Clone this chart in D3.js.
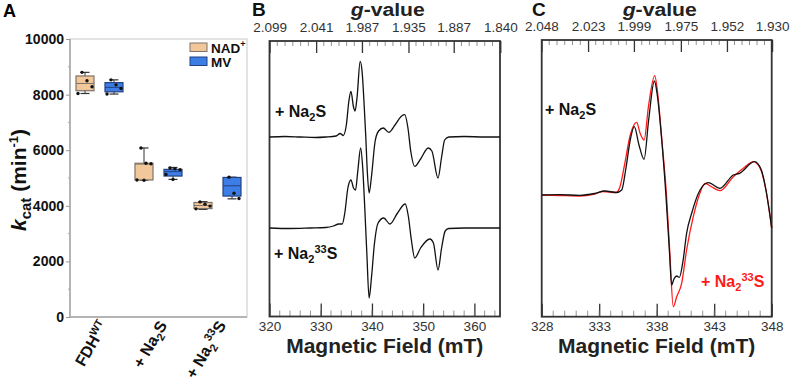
<!DOCTYPE html>
<html>
<head>
<meta charset="utf-8">
<script src="https://cdn.jsdelivr.net/npm/d3@7"></script>
<style>
  body { margin: 0; background: #fff; }
  svg { display: block; font-family: "Liberation Sans", Arial, Helvetica, sans-serif; }
</style>
</head>
<body>
<svg id="chart" width="791" height="380"></svg>
<script>
// data ---------------------------------------------------------------------------------------
const categories = ['FDHWT', 'Na2S', 'Na233S'];
const series = ['NAD+', 'MV'];
// box stats: [min, q1, median, q3, max] (min-1)
const nadStats = [[8040, 8140, 8400, 8670, 8800], [4920, 4930, 5500, 5530, 6080], [3870, 3900, 4010, 4120, 4150]];
const mvStats = [[8020, 8100, 8260, 8430, 8530], [4950, 5070, 5230, 5310, 5380], [4250, 4350, 4720, 5020, 5030]];
const nadPoints = [[8800, 8500, 8280, 8040], [6080, 5530, 5510, 4930, 4920], [4140, 4060, 3990, 3890]];
const mvPoints = [[8530, 8350, 8220, 8020], [5360, 5330, 5300, 5130, 4950], [5030, 4450, 4260]];
const kcatTicks = [0, 2000, 4000, 6000, 8000, 10000];

// EPR spectra [field mT, intensity]
const na2sWide = [[320, 0], [323, 0.5], [326, 0], [329, -0.5], [331, 0], [333, 1], [333.8, 3.5], [334.4, 1.5],
  [335.0, 12], [335.5, 36], [335.9, 45.6], [336.4, 30], [336.7, 26], [337.1, 40], [337.7, 75.6], [338.1, 64],
  [338.5, 30], [338.8, 0], [339.1, -35], [339.45, -56], [339.9, -40], [340.6, -5], [341.3, 6], [342.2, 9],
  [343.3, 4.6], [344.5, 12], [345.8, 21], [346.4, 22.3], [347.0, 10], [347.6, -15], [348.35, -29.4],
  [349.5, -22], [351.0, -11], [351.7, -14], [352.9, -41], [353.6, -20], [354.2, -3], [355, 0], [358, 0.5],
  [362, 0], [365, 0]];
const na233sWide = [[320, 0], [324, -0.5], [328, 0], [331, 0.5], [332.5, 2], [333.5, 4], [334.2, 4],
  [334.7, 15], [335.3, 40], [335.9, 48], [336.4, 40], [336.8, 38], [337.2, 55], [337.8, 80], [338.2, 60],
  [338.6, 20], [339.0, -25], [339.45, -70], [339.9, -50], [340.5, -15], [341.2, 5], [342.3, 10], [343.5, 4],
  [345, 15], [346.5, 24], [347.1, 12], [347.7, -12], [348.35, -30], [349.5, -20], [351.3, -11], [352.0, -15],
  [352.9, -42], [353.6, -20], [354.3, -3], [355, -0.5], [358, 0], [365, 0]];
const na2sZoom = [[328, 0], [329.6, 0.3], [331.3, -0.3], [332.6, 1.5], [333.5, 4], [334.5, 2.5], [334.96, 5],
  [335.3, 25], [335.7, 55], [336.05, 68.3], [336.46, 50], [336.9, 35.7], [337.3, 75], [337.8, 114],
  [338.05, 100], [338.4, 60], [338.8, 0], [339.1, -55], [339.3, -90], [339.5, -84], [339.74, -81],
  [339.97, -82.3], [340.3, -65], [340.6, -38.3], [341.04, -18.3], [341.77, 5], [342.5, 12.3], [343.5, 6.7],
  [344.66, 20], [345.2, 21.7], [346.5, 33.3], [347.1, 25], [347.5, 5], [348, -33]];
const na233sZoom = [[328, 0], [329.6, -0.5], [331.3, -1], [332.6, 1], [333.3, 3.5], [334.46, 2.5], [334.8, 8],
  [335.2, 30], [335.7, 60], [336.26, 72.7], [336.55, 62], [336.9, 55], [337.3, 90], [337.83, 119.3],
  [338.1, 100], [338.45, 55], [338.85, 0], [339.15, -60], [339.44, -111.7], [339.74, -101.7],
  [340.17, -88.3], [340.6, -55], [341.18, -21.7], [341.7, 0], [342.2, 11.7], [342.8, 8], [343.5, 4.3],
  [344.66, 18.3], [345.67, 28], [346.4, 33.3], [346.98, 27], [347.5, 5], [348, -33]];
const fieldTicksB = [320, 330, 340, 350, 360];
const fieldTicksC = [328, 333, 338, 343, 348];
const gTicksB = [2.099, 2.041, 1.987, 1.935, 1.887, 1.840];
const gTicksC = [2.048, 2.023, 1.999, 1.975, 1.952, 1.930];
const hv = 671.7; // g * B (mT)

const svg = d3.select('#chart');

// panel A ------------------------------------------------------------------------------------
const aLeft = 70, aRight = 247, aTop = 39, aBottom = 317;
const yA = d3.scaleLinear().domain([0, 10000]).range([aBottom, aTop]);
const xA = d3.scaleBand().domain(categories).range([aLeft, aRight]);
const offs = d3.scaleOrdinal().domain(series).range([-14.5, 14.5]);
const fills = {'NAD+': '#f2c89b', 'MV': '#3d7de6'};
const strokes = {'NAD+': '#7d7368', 'MV': '#25407f'};
const jitter = [-3, 2, 7, -7, 0, 5];

svg.append('text').attr('x', 3).attr('y', 17).attr('font-size', '18px').attr('font-weight', 'bold').text('A');

const gA = svg.append('g');
gA.append('rect').attr('x', aLeft).attr('y', aTop).attr('width', aRight - aLeft).attr('height', aBottom - aTop)
  .attr('fill', 'none').attr('stroke', '#c8c8c8').attr('stroke-width', 1);
gA.append('line').attr('x1', aLeft).attr('x2', aLeft).attr('y1', aTop).attr('y2', aBottom + 1)
  .attr('stroke', '#b4b4b4').attr('stroke-width', 2);
gA.append('line').attr('x1', aLeft).attr('x2', aRight).attr('y1', aBottom).attr('y2', aBottom)
  .attr('stroke', '#b4b4b4').attr('stroke-width', 2);

const yAxisA = gA.append('g').attr('transform', 'translate(' + aLeft + ',0)')
  .call(d3.axisLeft(yA).tickValues(kcatTicks).tickFormat(d3.format('d')).tickSize(4).tickPadding(2));
yAxisA.select('.domain').remove();
yAxisA.selectAll('line').attr('stroke', '#999');
yAxisA.selectAll('text').attr('font-size', '14px').attr('font-weight', 'bold').attr('fill', '#111');
gA.selectAll('.minorA').data(d3.range(1000, 10000, 2000)).enter().append('line')
  .attr('x1', aLeft - 2).attr('x2', aLeft).attr('y1', d => yA(d)).attr('y2', d => yA(d))
  .attr('stroke', '#aaa');

// y-axis title
const yTitle = gA.append('text').attr('transform', 'translate(26,180) rotate(-90)')
  .attr('text-anchor', 'middle').attr('font-size', '21px').attr('font-weight', 'bold').attr('fill', '#111');
yTitle.append('tspan').attr('font-style', 'italic').text('k');
yTitle.append('tspan').attr('font-size', '15px').attr('dy', 5).text('cat');
yTitle.append('tspan').attr('dy', -5).text(' (min');
yTitle.append('tspan').attr('font-size', '13px').attr('dy', -8).text('-1');
yTitle.append('tspan').attr('dy', 8).text(')');

// boxes
const boxW = 18;
const drawBoxes = (name, stats, points) => {
  stats.forEach((s, i) => {
    const cx = xA(categories[i]) + xA.bandwidth() / 2 + offs(name);
    const g = gA.append('g');
    g.append('line').attr('x1', cx).attr('x2', cx).attr('y1', yA(s[0])).attr('y2', yA(s[4]))
      .attr('stroke', '#333').attr('stroke-width', 1);
    g.selectAll('.cap').data([s[0], s[4]]).enter().append('line')
      .attr('x1', cx - 4.5).attr('x2', cx + 4.5).attr('y1', d => yA(d)).attr('y2', d => yA(d))
      .attr('stroke', '#333').attr('stroke-width', 1.2);
    g.append('rect').attr('x', cx - boxW / 2).attr('width', boxW)
      .attr('y', yA(s[3])).attr('height', yA(s[1]) - yA(s[3]))
      .attr('fill', fills[name]).attr('stroke', strokes[name]).attr('stroke-width', 1.2);
    g.append('line').attr('x1', cx - boxW / 2).attr('x2', cx + boxW / 2)
      .attr('y1', yA(s[2])).attr('y2', yA(s[2])).attr('stroke', strokes[name]).attr('stroke-width', 1);
    g.selectAll('circle').data(points[i]).enter().append('circle')
      .attr('cx', (d, j) => cx + jitter[j % jitter.length]).attr('cy', d => yA(d)).attr('r', 1.7)
      .attr('fill', '#111');
  });
};
drawBoxes('NAD+', nadStats, nadPoints);
drawBoxes('MV', mvStats, mvPoints);

// legend
const legA = gA.append('g').attr('transform', 'translate(190,43)');
series.forEach((name, i) => {
  legA.append('rect').attr('x', 0).attr('y', i * 14).attr('width', 17).attr('height', 8.5)
    .attr('fill', fills[name]).attr('stroke', strokes[name]).attr('stroke-width', 1);
  const t = legA.append('text').attr('x', 21).attr('y', i * 14 + 9.5).attr('font-size', '13.5px')
    .attr('font-weight', 'bold').attr('fill', '#111');
  if (name === 'NAD+') {
    t.append('tspan').text('NAD');
    t.append('tspan').attr('font-size', '9px').attr('dy', -6).text('+');
  } else {
    t.text(name);
  }
});

// category labels
const catParts = {
  FDHWT: [['FDH', 0, 16], ['WT', -6, 10.5]],
  Na2S: [['+ Na', 0, 16], ['2', 4, 11], ['S', -4, 16]],
  Na233S: [['+ Na', 0, 16], ['2', 4, 11], ['33', -10, 11], ['S', 6, 16]]
};
categories.forEach(c => {
  const cx = xA(c) + xA.bandwidth() / 2;
  const t = gA.append('text').attr('transform', 'translate(' + (cx + 9) + ',' + (aBottom + 8) + ') rotate(-60)')
    .attr('text-anchor', 'end').attr('font-weight', 'bold').attr('fill', '#111');
  catParts[c].forEach(p => {
    t.append('tspan').attr('dy', p[1]).attr('font-size', p[2] + 'px').text(p[0]);
  });
});

// EPR panels ---------------------------------------------------------------------------------
const eprPanel = (opt) => {
  const x = d3.scaleLinear().domain(opt.domain).range([opt.left, opt.right]);
  const y = d3.scaleLinear().domain(opt.yDomain).range([opt.bottom, opt.top]);
  const g = svg.append('g');
  // bottom axis
  const bAxis = g.append('g').attr('transform', 'translate(0,' + opt.bottom + ')')
    .call(d3.axisBottom(x).tickValues(opt.fieldTicks).tickSize(-13).tickPadding(5));
  bAxis.select('.domain').remove();
  bAxis.selectAll('line').attr('stroke', '#333').attr('stroke-width', 1.3);
  bAxis.selectAll('text').attr('font-size', '13.5px').attr('fill', '#333');
  g.selectAll('.minB').data(d3.range(opt.domain[0], opt.domain[1] + 0.001, opt.minorStep)).enter().append('line')
    .attr('x1', d => x(d)).attr('x2', d => x(d)).attr('y1', opt.bottom).attr('y2', opt.bottom - 6)
    .attr('stroke', '#777').attr('stroke-width', 0.8);
  // top axis (g-value)
  const gPos = opt.gTicks.map(v => hv / v);
  const tAxis = g.append('g').attr('transform', 'translate(0,' + opt.top + ')')
    .call(d3.axisTop(x).tickValues(gPos).tickSize(-12).tickPadding(9)
      .tickFormat((d, i) => d3.format('.3f')(opt.gTicks[i])));
  tAxis.select('.domain').remove();
  tAxis.selectAll('line').attr('stroke', '#333').attr('stroke-width', 1.3);
  tAxis.selectAll('text').attr('font-size', '13.5px').attr('fill', '#333');
  const minorTop = [];
  for (let i = 0; i < gPos.length - 1; i++) {
    for (let k = 1; k < 6; k++) minorTop.push(gPos[i] + (gPos[i + 1] - gPos[i]) * k / 6);
  }
  g.selectAll('.minT').data(minorTop).enter().append('line')
    .attr('x1', d => x(d)).attr('x2', d => x(d)).attr('y1', opt.top).attr('y2', opt.top + 5)
    .attr('stroke', '#777').attr('stroke-width', 0.8);
  // frame
  g.append('rect').attr('x', opt.left).attr('y', opt.top).attr('width', opt.right - opt.left)
    .attr('height', opt.bottom - opt.top).attr('fill', 'none').attr('stroke', '#333').attr('stroke-width', 1.8);
  // traces
  opt.traces.forEach(tr => {
    g.append('path').datum(tr.data)
      .attr('d', d3.line().x(d => x(d[0])).y(d => y(d[1] + tr.offset)).curve(d3.curveMonotoneX))
      .attr('fill', 'none').attr('stroke', tr.color).attr('stroke-width', 1.3);
  });
  // titles
  g.append('text').attr('x', (opt.left + opt.right) / 2).attr('y', 352.5).attr('text-anchor', 'middle')
    .attr('font-size', '21px').attr('font-weight', 'bold').attr('fill', '#222').text('Magnetic Field (mT)');
  const gt = g.append('text').attr('x', (opt.left + opt.right) / 2 + 3 - 37).attr('y', 15.5)
    .attr('font-size', '17.5px').attr('font-weight', 'bold').attr('fill', '#222')
    .attr('textLength', 74).attr('lengthAdjust', 'spacingAndGlyphs');
  gt.append('tspan').attr('font-style', 'italic').text('g');
  gt.append('tspan').text('-value');
  g.append('text').attr('x', opt.labelX).attr('y', 16).attr('font-size', '19px').attr('font-weight', 'bold')
    .attr('fill', '#111').text(opt.label);
  // trace labels
  opt.tags.forEach(tag => {
    const t = g.append('text').attr('x', tag.x).attr('y', tag.y).attr('font-weight', 'bold')
      .attr('fill', tag.color);
    tag.parts.forEach(p => t.append('tspan').attr('dy', p[1]).attr('font-size', p[2] + 'px').text(p[0]));
  });
};

const tagNa2S = [['+ Na', 0, 16], ['2', 4, 11], ['S', -4, 16]];
const tagNa233S = [['+ Na', 0, 16], ['2', 4, 11], ['33', -10, 11], ['S', 6, 16]];

eprPanel({
  domain: [320, 365], left: 269.5, right: 500, top: 41, bottom: 316.5,
  yDomain: [-88.5, 187], fieldTicks: fieldTicksB, gTicks: gTicksB, minorStep: 2,
  traces: [{data: na2sWide, offset: 91, color: '#111'}, {data: na233sWide, offset: 0, color: '#111'}],
  label: 'B', labelX: 252,
  tags: [{x: 275, y: 117, color: '#111', parts: tagNa2S}, {x: 274, y: 259, color: '#111', parts: tagNa233S}]
});
eprPanel({
  domain: [328, 348], left: 541.7, right: 771.7, top: 40, bottom: 316.7,
  yDomain: [-121.7, 155], fieldTicks: fieldTicksC, gTicks: gTicksC, minorStep: 1,
  traces: [{data: na233sZoom, offset: 0, color: '#ff1a1a'}, {data: na2sZoom, offset: 0, color: '#111'}],
  label: 'C', labelX: 532,
  tags: [{x: 545, y: 115, color: '#111', parts: tagNa2S}, {x: 701, y: 287, color: '#ff1a1a', parts: tagNa233S}]
});
</script>
</body>
</html>
